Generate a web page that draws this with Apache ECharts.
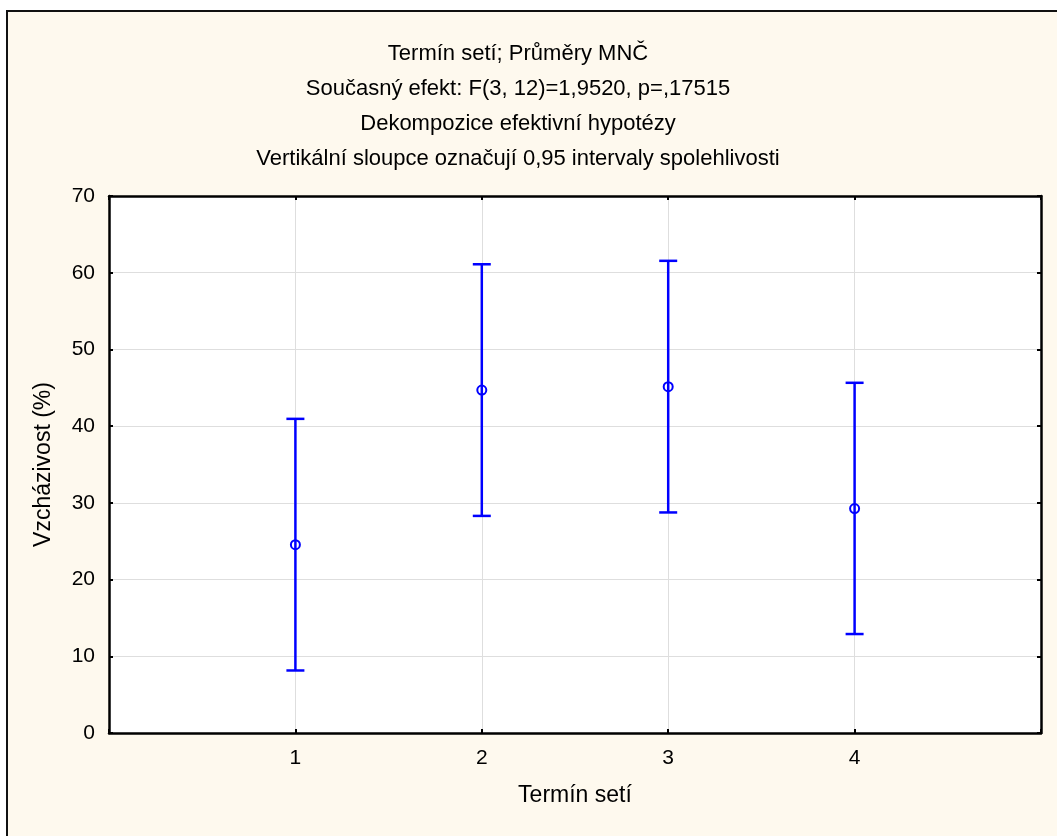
<!DOCTYPE html>
<html>
<head>
<meta charset="utf-8">
<script src="https://cdn.jsdelivr.net/npm/echarts@6/dist/echarts.min.js"></script>
<style>
html,body{margin:0;padding:0;background:#ffffff;}
#chart{width:1057px;height:836px;}
</style>
</head>
<body>
<div id="chart"></div>
<script>
var categories = [1, 2, 3, 4];
var means = [24.55, 44.7, 45.15, 29.25];
var lowerCI = [8.15, 28.3, 28.75, 12.9];
var upperCI = [40.95, 61.1, 61.55, 45.65];
var yTicks = [0, 10, 20, 30, 40, 50, 60, 70];
var titleLines = [
  'Termín setí; Průměry MNČ',
  'Současný efekt: F(3, 12)=1,9520, p=,17515',
  'Dekompozice efektivní hypotézy',
  'Vertikální sloupce označují 0,95 intervaly spolehlivosti'
];
var xName = 'Termín setí';
var yName = 'Vzcházivost (%)';

var FONT = '"Liberation Sans", Arial, sans-serif';
var BLUE = '#0000ff';

var data = categories.map(function (c, i) {
  return [c, means[i], lowerCI[i], upperCI[i]];
});

var chart = echarts.init(document.getElementById('chart'), null, {renderer: 'canvas'});

function renderItem(params, api) {
  var x = api.value(0);
  var pMean = api.coord([x, api.value(1)]);
  var pLow = api.coord([x, api.value(2)]);
  var pHigh = api.coord([x, api.value(3)]);
  var capHalf = 9;
  var lineStyle = {stroke: BLUE, lineWidth: 2.5, fill: null};
  return {
    type: 'group',
    children: [
      {type: 'line', shape: {x1: pLow[0], y1: pLow[1], x2: pHigh[0], y2: pHigh[1]}, style: lineStyle},
      {type: 'line', shape: {x1: pLow[0] - capHalf, y1: pLow[1], x2: pLow[0] + capHalf, y2: pLow[1]}, style: lineStyle},
      {type: 'line', shape: {x1: pHigh[0] - capHalf, y1: pHigh[1], x2: pHigh[0] + capHalf, y2: pHigh[1]}, style: lineStyle},
      {type: 'circle', shape: {cx: pMean[0], cy: pMean[1], r: 4.5}, style: {stroke: BLUE, lineWidth: 2, fill: 'rgba(0,0,0,0)'}}
    ]
  };
}

var axisLabelFmt = function (v) { return (v >= 1 && v <= 4) ? String(v) : ''; };

var option = {
  animation: false,
  backgroundColor: 'transparent',
  textStyle: {fontFamily: FONT},
  graphic: [
    {type: 'rect', z: -10, silent: true, shape: {x: 7, y: 11, width: 1200, height: 1000},
     style: {fill: '#fef9ee', stroke: '#111111', lineWidth: 2}}
  ],
  title: {
    text: titleLines.join('\n'),
    left: 518,
    top: 36,
    padding: 0,
    textAlign: 'center',
    textStyle: {fontFamily: FONT, fontSize: 22, fontWeight: 'normal', color: '#000', lineHeight: 35}
  },
  grid: {left: 109, top: 196, right: 16, bottom: 103, show: true, backgroundColor: '#ffffff', borderWidth: 0},
  xAxis: [
    {
      type: 'value', min: 0, max: 5, interval: 1, position: 'bottom',
      name: xName, nameLocation: 'middle', nameGap: 51,
      nameTextStyle: {fontFamily: FONT, fontSize: 23, color: '#000'},
      axisLine: {show: true, onZero: false, lineStyle: {color: '#000', width: 2.5}},
      axisTick: {show: true, inside: true, length: 4, lineStyle: {color: '#000', width: 2}},
      axisLabel: {fontFamily: FONT, fontSize: 21, color: '#000', margin: 15, formatter: axisLabelFmt},
      splitLine: {show: true, lineStyle: {color: '#dedede', width: 1}}
    },
    {
      type: 'value', min: 0, max: 5, interval: 1, position: 'top',
      axisLine: {show: true, onZero: false, lineStyle: {color: '#000', width: 2.5}},
      axisTick: {show: true, inside: true, length: 4, lineStyle: {color: '#000', width: 2}},
      axisLabel: {show: false},
      splitLine: {show: false}
    }
  ],
  yAxis: [
    {
      type: 'value', min: 0, max: 70, interval: 10, position: 'left',
      name: yName, nameLocation: 'middle', nameGap: 54,
      nameTextStyle: {fontFamily: FONT, fontSize: 23, color: '#000'},
      axisLine: {show: true, onZero: false, lineStyle: {color: '#000', width: 2.5}},
      axisTick: {show: true, inside: true, length: 4, lineStyle: {color: '#000', width: 2}},
      axisLabel: {fontFamily: FONT, fontSize: 21, color: '#000', margin: 14,
        formatter: function (v) { return yTicks.indexOf(v) >= 0 ? String(v) : ''; }},
      splitLine: {show: true, lineStyle: {color: '#dedede', width: 1}}
    },
    {
      type: 'value', min: 0, max: 70, interval: 10, position: 'right',
      axisLine: {show: true, onZero: false, lineStyle: {color: '#000', width: 2.5}},
      axisTick: {show: true, inside: true, length: 4, lineStyle: {color: '#000', width: 2}},
      axisLabel: {show: false},
      splitLine: {show: false}
    }
  ],
  series: [
    {
      type: 'custom',
      xAxisIndex: 0, yAxisIndex: 0,
      renderItem: renderItem,
      encode: {x: 0, y: [1, 2, 3]},
      data: data,
      z: 10
    }
  ]
};
chart.setOption(option);
</script>
</body>
</html>
